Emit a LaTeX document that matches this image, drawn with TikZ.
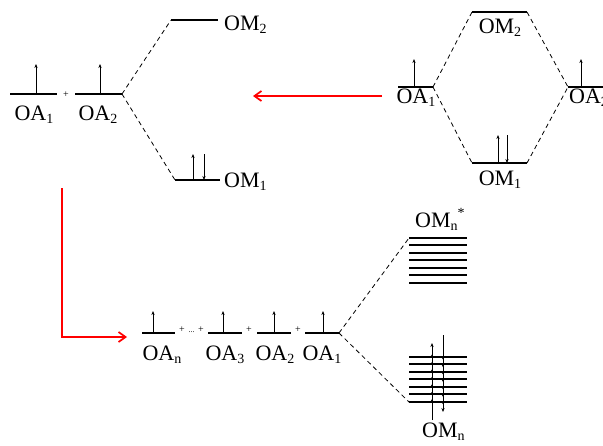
\documentclass[tikz,border=0pt]{standalone}
\usepackage{fontspec}
\setmainfont{Liberation Serif}
\usetikzlibrary{arrows.meta}
\newcommand{\lsub}[1]{\raisebox{-0.35ex}{\fontsize{14}{14}\selectfont #1}}
\newcommand{\lsup}[1]{\raisebox{0.9ex}{\fontsize{14}{14}\selectfont #1}}
\begin{document}
\begin{tikzpicture}[x=1pt,y=-1pt,
  lvl/.style={line width=1.8pt},
  band/.style={line width=2pt},
  conn/.style={line width=0.8pt, dash pattern=on 4.5pt off 3.5pt},
  spin/.style={line width=0.9pt,-{Stealth[length=4pt,width=3.2pt]}},
  tinyspin/.style={line width=0.8pt,-{Stealth[length=2.5pt,width=2.8pt]}},
  lab/.style={font=\fontsize{22}{24}\selectfont, inner sep=0pt},
  plus/.style={font=\fontsize{10}{10}\selectfont, inner sep=0pt},
  rarr/.style={red, line width=1.7pt, -{Straight Barb[length=7pt,width=10pt]}}]
\clip (0,0) rectangle (603,445);
\fill[white] (0,0) rectangle (603,445);

% ---------- top-left diagram ----------
\coordinate (tl1l) at (10,94);  \coordinate (tl1r) at (57,94);
\coordinate (tl2l) at (75,94);  \coordinate (tl2r) at (122,94);
\coordinate (tlm2l) at (171,20); \coordinate (tlm2r) at (218,20);
\coordinate (tlm1l) at (175,180); \coordinate (tlm1r) at (220,180);
\draw[lvl] (tl1l) -- (tl1r);
\draw[lvl] (tl2l) -- (tl2r);
\draw[lvl] (tlm2l) -- (tlm2r);
\draw[lvl] (tlm1l) -- (tlm1r);
\draw[spin] (36,94) -- (36,64);
\draw[spin] (100,94) -- (100,64);
\draw[spin] (193,180) -- (193,154);
\draw[spin] (204,154) -- (204,180);
\node[plus] (tlplus) at (66,95) {+};
\draw[conn] (tl2r) -- (tlm2l);
\draw[conn] (tl2r) -- (tlm1l);
\node[lab,anchor=base] (tlOA1) at (34,120) {OA\lsub{1}};
\node[lab,anchor=base] (tlOA2) at (98,120) {OA\lsub{2}};
\node[lab,anchor=base west] (tlOM2) at (224,30) {OM\lsub{2}};
\node[lab,anchor=base west] (tlOM1) at (224,187) {OM\lsub{1}};

% ---------- top-right diagram ----------
\coordinate (tr1l) at (398,87);  \coordinate (tr1r) at (433,87);
\coordinate (trm2l) at (472,12); \coordinate (trm2r) at (527,12);
\coordinate (trm1l) at (472,163); \coordinate (trm1r) at (527,163);
\coordinate (tr2l) at (568,87);  \coordinate (tr2r) at (612,87);
\draw[lvl] (tr1l) -- (tr1r);
\draw[lvl] (trm2l) -- (trm2r);
\draw[lvl] (trm1l) -- (trm1r);
\draw[lvl] (tr2l) -- (tr2r);
\draw[spin] (414,87) -- (414,59);
\draw[spin] (581,87) -- (581,59);
\draw[spin] (498,163) -- (498,135);
\draw[spin] (507,135) -- (507,163);
\draw[conn] (tr1r) -- (trm2l);
\draw[conn] (tr1r) -- (trm1l);
\draw[conn] (trm2r) -- (tr2l);
\draw[conn] (trm1r) -- (tr2l);
\node[lab,anchor=base] (trOA1) at (416,103) {OA\lsub{1}};
\node[lab,anchor=base] (trOM2) at (500,33) {OM\lsub{2}};
\node[lab,anchor=base] (trOM1) at (500,185) {OM\lsub{1}};
\node[lab,anchor=base west] (trOA2) at (569,103) {OA\lsub{2}};

% ---------- red arrows ----------
\coordinate (rh1) at (382,96); \coordinate (rh2) at (253,96);
\draw[rarr] (rh1) -- (rh2);
\coordinate (rv1) at (62,188); \coordinate (rv2) at (127,337);
\draw[rarr] (rv1) |- (rv2);

% ---------- bottom row ----------
\foreach \a/\b/\m in {142/175/153, 208/242/223, 257/291/274, 305/339/323}{
  \draw[lvl] (\a,333) -- (\b,333);
  \draw[spin] (\m,333) -- (\m,311);
}
\coordinate (b1r) at (339,333);
\node[plus] (bp1) at (182,330) {+};
\node[plus,font=\fontsize{8}{8}\selectfont] (bdots) at (191.5,332) {...};
\node[plus] (bp2) at (201,330) {+};
\node[plus] (bp3) at (249,330) {+};
\node[plus] (bp4) at (298,330) {+};
\node[lab,anchor=base] (bOAn) at (162,360) {OA\lsub{n}};
\node[lab,anchor=base] (bOA3) at (225,360) {OA\lsub{3}};
\node[lab,anchor=base] (bOA2) at (275,360) {OA\lsub{2}};
\node[lab,anchor=base] (bOA1) at (322,360) {OA\lsub{1}};

% ---------- bands ----------
\foreach \i in {0,...,6}{
  \draw[band] (409,238+7.45*\i) -- (467,238+7.45*\i);
  \draw[band] (409,357+7.45*\i) -- (467,357+7.45*\i);
}
\coordinate (up0) at (409,238);
\coordinate (lo0) at (409,402);
\draw[conn] (b1r) -- (up0);
\draw[conn] (b1r) -- (lo0);
\draw[spin] (432,420) -- (432,343);
\draw[spin] (443,335) -- (443,412);
\foreach \i in {0,...,6}{
  \draw[tinyspin] (432,357+7.45*\i+1.5) -- (432,357+7.45*\i-2.5);
  \draw[tinyspin] (443,357+7.45*\i-1.5) -- (443,357+7.45*\i+2.5);
}
\node[lab,anchor=base west] (OMns) at (415,227) {OM\lsub{n}\lsup{*}};
\node[lab,anchor=base west] (OMn) at (422,437) {OM\lsub{n}};
\end{tikzpicture}
\end{document}
